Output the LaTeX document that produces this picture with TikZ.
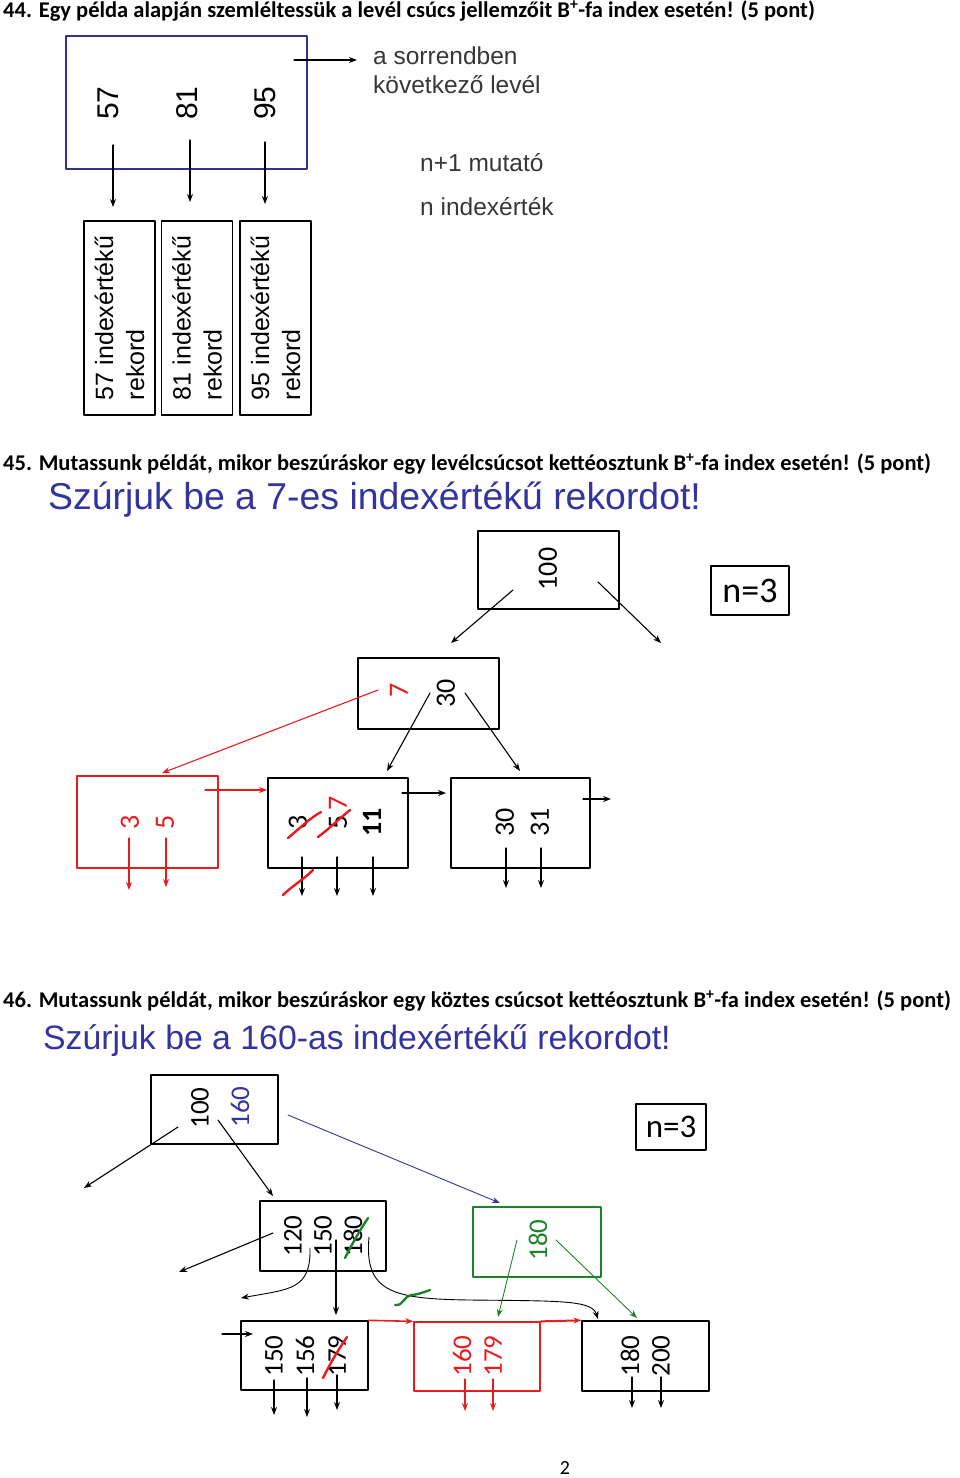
\documentclass[tikz,border=0pt]{standalone}
\usepackage{fontspec}
\setmainfont{Carlito}
\newfontfamily\arialfont{Liberation Sans}
\usetikzlibrary{arrows.meta}
\definecolor{titleblue}{RGB}{52,52,160}
\definecolor{leafblue}{RGB}{50,50,150}
\definecolor{hred}{RGB}{232,28,28}
\definecolor{hgreen}{RGB}{30,130,40}
\definecolor{txtgray}{RGB}{55,55,55}
\begin{document}
\begin{tikzpicture}[x=1pt, y=-1pt, line join=round, line cap=round, >={Stealth[length=8pt,width=6pt]},
  box/.style={draw, line width=1.3pt, inner sep=0pt},
  num/.style={rotate=90, inner sep=0pt, font=\fontsize{28}{28}\selectfont},
  ptr/.style={->, line width=1.1pt},
  head/.style={anchor=west, inner sep=0pt, font=\fontsize{22.5}{26}\selectfont\bfseries},
  title/.style={anchor=west, inner sep=0pt, text=titleblue, font=\arialfont\fontsize{37.4}{42}\selectfont},
  note/.style={anchor=west, inner sep=0pt, text=txtgray, font=\arialfont\fontsize{24.5}{28}\selectfont},
  nbox/.style={draw, line width=1.3pt, inner sep=0pt},
  scrib/.style={line width=2.4pt}]
\useasboundingbox (0,0) rectangle (960,1478);

% --- 44.
\node[head] (h44) at (3,11) {44. Egy példa alapján szemléltessük a levél csúcs jellemzőit B\textsuperscript{+}-fa index esetén! (5 pont)};
\node[box, draw=leafblue, line width=2pt, minimum width=241pt, minimum height=133pt] (leaf) at (186.5,102.5) {};
\foreach \v/\x in {57/108,81/187,95/265}
  \node[num, font=\arialfont\fontsize{30}{30}\selectfont] (k\v) at (\x,103) {\v};
\foreach \v/\x in {57/119.5,81/197,95/275.5}
  \node[box, rotate=90, minimum width=194pt, minimum height=71pt, align=left,
    font=\arialfont\fontsize{25}{31}\selectfont] (r\v) at (\x,318) {\v{} indexértékű\\rekord};
\foreach \v/\x/\y in {57/113/145,81/190/140,95/265/142}{
  \coordinate (s\v) at (\x,\y);
  \coordinate (e\v) at (\x,\y+62);
  \draw[ptr] (s\v) -- (e\v);
}
\coordinate (nx) at (294,60);
\coordinate (nxe) at (357,60);
\draw[ptr] (nx) -- (nxe);
\node[note] (nt1) at (373,56) {a sorrendben};
\node[note] (nt2) at (373,85) {következő levél};
\node[note] (nt3) at (420,163) {n+1 mutató};
\node[note] (nt4) at (420,207) {n indexérték};

% --- 45.
\node[head] (h45) at (3,464) {45. Mutassunk példát, mikor beszúráskor egy levélcsúcsot kettéosztunk B\textsuperscript{+}-fa index esetén! (5 pont)};
\node[title] (t45) at (48,500) {Szúrjuk be a 7-es indexértékű rekordot!};
\node[box, minimum width=141pt, minimum height=78pt] (a100) at (548.5,570) {};
\node[num] (n100) at (548,569) {100};
\node[nbox, minimum width=78pt, minimum height=49pt, font=\fontsize{36}{36}\selectfont] (na) at (750,590.5) {n=3};
\node[box, minimum width=141pt, minimum height=71pt] (a30) at (428.5,693.5) {};
\node[num, text=hred] (n7) at (399,690) {7};
\node[num] (n30) at (446,693) {30};
\node[box, draw=hred, minimum width=141pt, minimum height=92pt] (a35) at (147.5,822) {};
\node[num, text=hred] (m3) at (130,822) {3};
\node[num, text=hred] (m5) at (165,822) {5};
\node[box, minimum width=140pt, minimum height=90pt] (a11) at (338,823) {};
\node[num] (o3) at (298,822) {3};
\node[num] (o5) at (338,822) {5};
\node[num, text=hred] (o7) at (338,803) {7};
\node[num, font=\fontsize{28}{28}\selectfont\bfseries] (o11) at (372,822) {11};
\node[box, minimum width=139pt, minimum height=90pt] (a31) at (520.5,823) {};
\node[num] (p30) at (505,822) {30};
\node[num] (p31) at (540,822) {31};

\coordinate (c1) at (513,590);  \coordinate (c1e) at (451,643);
\coordinate (c2) at (598,582);  \coordinate (c2e) at (661,643);
\draw[ptr] (c1) -- (c1e);
\draw[ptr] (c2) -- (c2e);
\coordinate (c3) at (378,690);  \coordinate (c3e) at (162,773);
\draw[ptr, hred] (c3) -- (c3e);
\coordinate (c4) at (430,693);  \coordinate (c4e) at (387,771);
\coordinate (c5) at (465,693);  \coordinate (c5e) at (520,771);
\draw[ptr] (c4) -- (c4e);
\draw[ptr] (c5) -- (c5e);
\foreach \x/\y in {129/890,166/887}{
  \coordinate (d\x) at (\x,838);
  \coordinate (d\x e) at (\x,\y);
  \draw[ptr, hred] (d\x) -- (d\x e);
}
\coordinate (l1) at (205,790);  \coordinate (l1e) at (267,790);
\draw[ptr, hred] (l1) -- (l1e);
\foreach \x in {302,337,373}{
  \coordinate (d\x) at (\x,857);
  \coordinate (d\x e) at (\x,896);
  \draw[ptr] (d\x) -- (d\x e);
}
\coordinate (l2) at (402,793);  \coordinate (l2e) at (446,793);
\draw[ptr] (l2) -- (l2e);
\foreach \x in {506,541}{
  \coordinate (d\x) at (\x,848);
  \coordinate (d\x e) at (\x,888);
  \draw[ptr] (d\x) -- (d\x e);
}
\coordinate (l3) at (583,799);  \coordinate (l3e) at (611,799);
\draw[ptr] (l3) -- (l3e);
% kihuzasok
\draw[scrib, hred] (288,838) .. controls (300,828) and (310,818) .. (321,812);
\draw[scrib, hred] (318,837) .. controls (330,828) and (340,818) .. (350,810);
\draw[scrib, hred] (283,895) .. controls (292,886) and (303,880) .. (313,870);

% --- 46.
\node[head] (h46) at (3,1001) {46. Mutassunk példát, mikor beszúráskor egy köztes csúcsot kettéosztunk B\textsuperscript{+}-fa index esetén! (5 pont)};
\node[title, font=\arialfont\fontsize{33.8}{40}\selectfont] (t46) at (43,1041) {Szúrjuk be a 160-as indexértékű rekordot!};
\node[box, minimum width=127pt, minimum height=69pt] (b100) at (214.5,1109.5) {};
\node[num, font=\fontsize{27}{27}\selectfont] (q100) at (200,1108) {100};
\node[num, font=\fontsize{27}{27}\selectfont, text=titleblue] (q160) at (240,1107) {160};
\node[nbox, minimum width=70pt, minimum height=46pt, font=\fontsize{33}{33}\selectfont] (nb) at (671,1127) {n=3};
\node[box, minimum width=126pt, minimum height=70pt] (b120) at (323,1236) {};
\foreach \v/\x in {120/293,150/323,180/353}
  \node[num, font=\fontsize{27}{27}\selectfont] (u\v) at (\x,1236) {\v};
\node[box, draw=hgreen, line width=1.3pt, minimum width=128pt, minimum height=70pt] (g180) at (537,1242) {};
\node[num, font=\fontsize{27}{27}\selectfont, text=hgreen] (w180) at (538,1240) {180};
\node[box, minimum width=127pt, minimum height=69pt] (b150) at (304.5,1355.5) {};
\foreach \v/\x in {150/274,156/305,179/337}
  \node[num, font=\fontsize{27}{27}\selectfont] (x\v) at (\x,1356) {\v};
\node[box, draw=hred, minimum width=126pt, minimum height=69pt] (b160) at (477,1356.5) {};
\foreach \v/\x in {160/462,179/493}
  \node[num, font=\fontsize{27}{27}\selectfont, text=hred] (y\v) at (\x,1356) {\v};
\node[box, minimum width=127pt, minimum height=70pt] (b180) at (645.5,1356) {};
\foreach \v/\x in {180/630,200/661}
  \node[num, font=\fontsize{27}{27}\selectfont] (z\v) at (\x,1356) {\v};

\coordinate (f1) at (178,1127);  \coordinate (f1e) at (84,1188);
\coordinate (f2) at (218,1120);  \coordinate (f2e) at (273,1196);
\coordinate (f3) at (288,1115);  \coordinate (f3e) at (500,1203);
\draw[ptr] (f1) -- (f1e);
\draw[ptr] (f2) -- (f2e);
\draw[ptr, titleblue, line width=0.9pt] (f3) -- (f3e);
\coordinate (g1) at (273,1233);  \coordinate (g1e) at (179,1272);
\draw[ptr] (g1) -- (g1e);
\coordinate (g2) at (310,1248);  \coordinate (g2e) at (241,1298);
\draw[ptr, line width=0.9pt] (g2) .. controls (311,1290) and (290,1289) .. (g2e);
\coordinate (g3) at (336,1240);  \coordinate (g3e) at (336,1315);
\draw[ptr] (g3) -- (g3e);
\coordinate (g4) at (369,1237);  \coordinate (g4e) at (598,1319);
\draw[ptr, line width=0.9pt] (g4) .. controls (364,1292) and (392,1299) .. (470,1300)
  .. controls (560,1301) and (592,1300) .. (g4e);
\coordinate (g5) at (517,1240);  \coordinate (g5e) at (498,1317);
\coordinate (g6) at (556,1240);  \coordinate (g6e) at (637,1318);
\draw[ptr, hgreen, line width=0.9pt] (g5) -- (g5e);
\draw[ptr, hgreen, line width=0.9pt] (g6) -- (g6e);
\coordinate (h1) at (222,1334);  \coordinate (h1e) at (253,1334);
\draw[ptr] (h1) -- (h1e);
\draw[ptr, hred, line width=1.6pt] (b150.north east) -- (b160.north west);
\draw[ptr, hred, line width=2pt] (b160.north east) -- (b180.north west);
\foreach \x/\a/\b in {274/1380/1415,307/1378/1417,337/1375/1410,632/1377/1408,661/1377/1408}{
  \coordinate (v\x) at (\x,\a);
  \coordinate (v\x e) at (\x,\b);
  \draw[ptr] (v\x) -- (v\x e);
}
\foreach \x in {465,493}{
  \coordinate (v\x) at (\x,1379);
  \coordinate (v\x e) at (\x,1411);
  \draw[ptr, hred] (v\x) -- (v\x e);
}
% kihuzasok
\draw[scrib, hgreen] (345,1258) .. controls (352,1244) and (360,1230) .. (368,1218);
\draw[scrib, hred] (323,1378) .. controls (330,1364) and (338,1350) .. (347,1337);
\draw[scrib, hgreen] (395,1305) .. controls (404,1306) and (403,1296) .. (412,1295)
  .. controls (420,1294) and (424,1292) .. (430,1290);

\node[inner sep=0pt, font=\fontsize{20}{20}\selectfont] (pg) at (565,1468) {2};
\end{tikzpicture}
\end{document}
